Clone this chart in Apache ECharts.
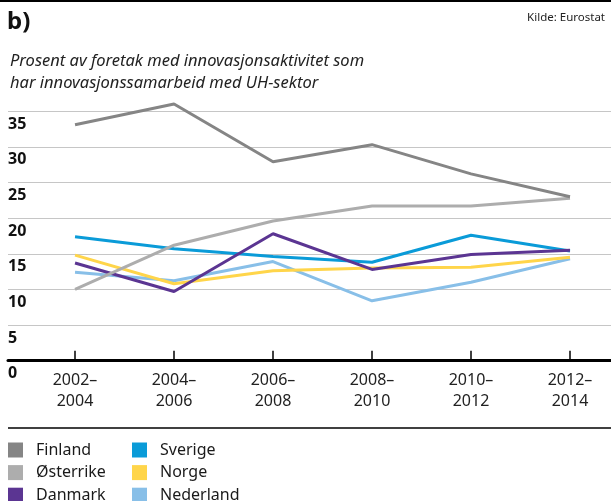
<!DOCTYPE html>
<html>
<head>
<meta charset="utf-8">
<script src="https://cdn.jsdelivr.net/npm/echarts@6/dist/echarts.min.js"></script>
<style>
  html, body { margin: 0; padding: 0; background: #fff; }
  #chart { width: 611px; height: 501px; }
</style>
</head>
<body>
<div id="chart"></div>
<script>
// periods on the x axis
var periods = ['2002–\n2004', '2004–\n2006', '2006–\n2008', '2008–\n2010', '2010–\n2012', '2012–\n2014'];

// percent of firms with innovation activity that cooperate with the HE sector
var finland   = [33.1, 36.0, 27.9, 30.3, 26.2, 23.0];
var osterrike = [10.0, 16.2, 19.6, 21.7, 21.7, 22.8];
var danmark   = [13.7, 9.7, 17.8, 12.8, 14.9, 15.5];
var sverige   = [17.4, 15.7, 14.6, 13.8, 17.6, 15.4];
var norge     = [14.8, 10.8, 12.6, 13.0, 13.1, 14.5];
var nederland = [12.4, 11.2, 13.9, 8.4, 11.0, 14.3];

var yTicks = [0, 5, 10, 15, 20, 25, 30, 35];

var FONT = '"Noto Sans", "Open Sans", sans-serif';

function toPoints(values) {
    return values.map(function (v, i) { return [i, v]; });
}

function lineSeries(name, values, color) {
    return {
        name: name,
        type: 'line',
        data: toPoints(values),
        showSymbol: false,
        symbol: 'none',
        lineStyle: { width: 3, color: color },
        itemStyle: { color: color },
        emphasis: { disabled: true }
    };
}

var chart = echarts.init(document.getElementById('chart'), null, { renderer: 'canvas' });

var legendBase = {
    orient: 'vertical',
    top: 442,
    height: 90,
    padding: 0,
    icon: 'rect',
    itemWidth: 15,
    itemHeight: 15,
    itemGap: 6.6,
    selectedMode: false,
    textStyle: { fontFamily: FONT, fontSize: 16, color: '#1a1a1a', lineHeight: 15, padding: [0, 0, 0, 8] }
};

chart.setOption({
    animation: false,
    backgroundColor: '#fff',
    title: [
        {
            text: 'b)', left: 7, top: 9, padding: 0,
            textStyle: { fontFamily: FONT, fontSize: 24, fontWeight: 'bold', color: '#111', lineHeight: 26 }
        },
        {
            text: 'Kilde: Eurostat', right: 6, top: 11, padding: 0,
            textStyle: { fontFamily: FONT, fontSize: 11.5, fontWeight: 'normal', color: '#222', lineHeight: 14 }
        },
        {
            text: 'Prosent av foretak med innovasjonsaktivitet som\nhar innovasjonssamarbeid med UH-sektor',
            left: 10, top: 50, padding: 0,
            textStyle: { fontFamily: FONT, fontSize: 16.5, fontStyle: 'italic', fontWeight: 'normal', color: '#222', lineHeight: 22 }
        }
    ],
    legend: [
        Object.assign({}, legendBase, { left: 8, data: ['Finland', 'Østerrike', 'Danmark'] }),
        Object.assign({}, legendBase, { left: 132, data: ['Sverige', 'Norge', 'Nederland'] })
    ],
    graphic: [
        { type: 'line', shape: { x1: 0, y1: 1, x2: 611, y2: 1 }, style: { stroke: '#000', lineWidth: 2 } },
        { type: 'line', shape: { x1: 8, y1: 428, x2: 611, y2: 428 }, style: { stroke: '#000', lineWidth: 1.5 } }
    ],
    grid: { left: 8, right: 0, top: 75.5, bottom: 140.3, containLabel: false },
    xAxis: {
        type: 'value',
        min: -0.677,
        max: 5.414,
        splitLine: { show: false },
        axisLine: { show: true, lineStyle: { color: '#000', width: 3 } },
        axisTick: {
            show: true, inside: true, length: 10,
            customValues: periods.map(function (p, i) { return i; }),
            lineStyle: { color: '#000', width: 1.5 }
        },
        axisLabel: {
            margin: 9,
            customValues: periods.map(function (p, i) { return i; }),
            formatter: function (v) { return periods[Math.round(v)]; },
            fontFamily: FONT, fontSize: 16, color: '#222', lineHeight: 21
        }
    },
    yAxis: {
        type: 'value',
        min: 0,
        max: 40,
        interval: 5,
        axisLine: { show: false },
        axisTick: { show: false },
        splitLine: { show: true, showMaxLine: false, showMinLine: false, lineStyle: { color: '#c6c6c6', width: 1.2 } },
        axisLabel: {
            inside: true,
            margin: 0,
            showMaxLabel: false,
            align: 'left',
            verticalAlign: 'top',
            padding: [5, 0, 0, 0],
            formatter: function (v) { return yTicks.indexOf(v) >= 0 ? String(v) : ''; },
            fontFamily: FONT, fontSize: 16, fontWeight: 'bold', color: '#111'
        }
    },
    series: [
        lineSeries('Nederland', nederland, '#88bfe8'),
        lineSeries('Norge', norge, '#ffd54a'),
        lineSeries('Sverige', sverige, '#0a9bd8'),
        lineSeries('Danmark', danmark, '#5b3592'),
        lineSeries('Østerrike', osterrike, '#adadad'),
        lineSeries('Finland', finland, '#858585')
    ]
});
</script>
</body>
</html>
